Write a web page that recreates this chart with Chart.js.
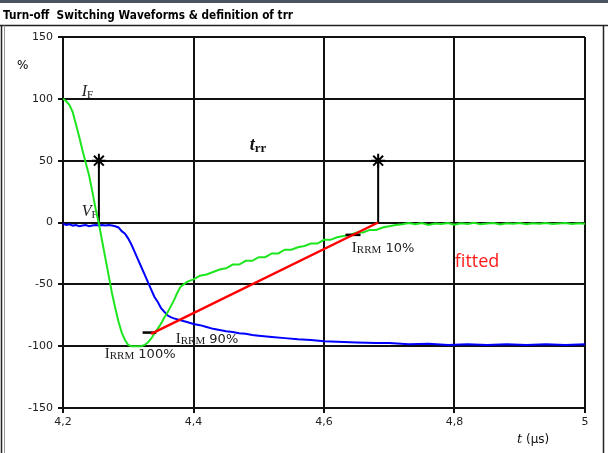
<!DOCTYPE html>
<html>
<head>
<meta charset="utf-8">
<script src="https://cdn.jsdelivr.net/npm/chart.js@4.4.0/dist/chart.umd.min.js"></script>
<style>
  html, body { margin: 0; padding: 0; background: #fff; }
  canvas { display: block; }
</style>
</head>
<body>
<canvas id="trrChart" width="608" height="453"></canvas>
<script>
// tick labels
const xTicks = [4.2, 4.4, 4.6, 4.8, 5.0];
const yTicks = [-150, -100, -50, 0, 50, 100, 150];

// current (green), time in us, value in %
const currentT = [4.200, 4.205, 4.210, 4.215, 4.220, 4.225, 4.230, 4.235, 4.240, 4.245,
  4.250, 4.255, 4.260, 4.265, 4.270, 4.275, 4.280, 4.285, 4.290, 4.295,
  4.300, 4.305, 4.310, 4.315, 4.320, 4.325, 4.330, 4.335, 4.340, 4.345,
  4.350, 4.355, 4.360, 4.365, 4.370, 4.375, 4.380, 4.385, 4.390, 4.395,
  4.400, 4.410, 4.420, 4.430, 4.440, 4.450, 4.460, 4.470, 4.480, 4.490,
  4.500, 4.510, 4.520, 4.530, 4.540, 4.550, 4.560, 4.570, 4.580, 4.590,
  4.600, 4.610, 4.620, 4.630, 4.640, 4.650, 4.660, 4.670, 4.680, 4.690,
  4.700, 4.710, 4.720, 4.730, 4.740, 4.750, 4.760, 4.770, 4.780, 4.790,
  4.800, 4.810, 4.820, 4.830, 4.840, 4.850, 4.860, 4.870, 4.880, 4.890,
  4.900, 4.910, 4.920, 4.930, 4.940, 4.950, 4.960, 4.970, 4.980, 4.990, 5.000];
const currentPct = [100, 98, 95, 89, 79, 69, 58, 48, 38, 25,
  11, -1, -15, -29, -43, -57, -69, -80, -89, -95,
  -99, -100, -100, -100, -100, -99, -97, -94, -90, -86,
  -82, -77, -73, -68, -63, -57, -52, -50, -48, -47,
  -46, -43, -42, -40, -38, -37, -34, -34, -31, -31,
  -28, -28, -25, -25, -22, -22, -20, -19, -17, -17,
  -14, -14, -12, -11, -10, -8, -8, -6, -6, -4,
  -3, -2, -1.5, -0.5, -1.5, -0.5, -2, -0.8, -1.2, -0.4,
  -1.8, -0.6, -1.2, -0.3, -1.5, -0.8, -0.4, -1.6, -0.7, -1.1,
  -0.5, -1.4, -0.6, -1.0, -0.4, -1.3, -0.8, -0.5, -1.2, -0.7, -1.0];

// voltage (blue)
const voltageT = [4.200, 4.205, 4.210, 4.215, 4.220, 4.225, 4.230, 4.235, 4.240, 4.245,
  4.250, 4.255, 4.260, 4.265, 4.270, 4.275, 4.280, 4.285, 4.290, 4.295,
  4.300, 4.305, 4.310, 4.315, 4.320, 4.325, 4.330, 4.335, 4.340, 4.345,
  4.350, 4.355, 4.360, 4.365, 4.370, 4.380, 4.390, 4.400, 4.410, 4.420,
  4.430, 4.440, 4.450, 4.460, 4.470, 4.480, 4.490, 4.500, 4.520, 4.540,
  4.560, 4.580, 4.600, 4.620, 4.650, 4.680, 4.700, 4.730, 4.760, 4.790,
  4.820, 4.850, 4.880, 4.910, 4.940, 4.970, 5.000];
const voltagePct = [-1, -2, -1.5, -2.5, -2, -3, -2.5, -2, -3, -2.5,
  -2, -2.5, -2, -2.5, -2, -2.5, -3, -4, -7, -9,
  -13, -18, -24, -30, -36, -42, -48, -54, -60, -64,
  -69, -72, -75, -76.5, -77.5, -79, -80.5, -82, -83, -84.5,
  -86, -87, -88, -88.5, -89.5, -90, -91, -91.5, -92.5, -93.5,
  -94.5, -95, -96, -96.5, -97, -97.5, -97.5, -98.5, -98, -99,
  -98.5, -99, -98.5, -99, -98.5, -99, -98.5];

// fitted line between IRRM 90% and zero crossing
const fittedT = [4.335, 4.683];
const fittedPct = [-90, 0];

// trr markers
const trrStartT = [4.255, 4.255];
const trrEndT = [4.683, 4.683];
const trrPct = [0, 50];

// small IRRM level dashes
const dash90T = [4.322, 4.343];
const dash90Pct = [-89, -89];
const dash10T = [4.633, 4.656];
const dash10Pct = [-10, -10];

function toPoints(xs, ys) {
    return xs.map((x, i) => ({ x: x, y: ys[i] }));
}

function fmtTime(v) {
    if (Math.abs(v - Math.round(v)) < 1e-9) return String(Math.round(v));
    return v.toFixed(1).replace('.', ',');
}

// text with subscript: parts = [[text, font, dy], ...]
function drawParts(ctx, x, y, parts, color) {
    ctx.fillStyle = color;
    ctx.textBaseline = 'alphabetic';
    ctx.textAlign = 'left';
    let cx = x;
    parts.forEach(p => {
        ctx.font = p[1];
        ctx.fillText(p[0], cx, y + (p[2] || 0));
        cx += ctx.measureText(p[0]).width;
    });
}

const framePlugin = {
    id: 'frame',
    beforeDraw(chart) {
        const ctx = chart.ctx;
        ctx.save();
        ctx.fillStyle = '#fff';
        ctx.fillRect(0, 0, chart.width, chart.height);
        ctx.fillStyle = '#4b5260';
        ctx.fillRect(0, 0, chart.width, 3);
        ctx.strokeStyle = '#222';
        ctx.lineWidth = 1.5;
        ctx.beginPath();
        ctx.moveTo(0, 25.5); ctx.lineTo(chart.width, 25.5);
        ctx.moveTo(1.5, 25.5); ctx.lineTo(1.5, chart.height);
        ctx.moveTo(603.5, 25.5); ctx.lineTo(603.5, chart.height);
        ctx.stroke();
        ctx.strokeStyle = '#999';
        ctx.lineWidth = 1;
        ctx.beginPath();
        ctx.moveTo(4.5, 25.5); ctx.lineTo(4.5, chart.height);
        ctx.stroke();

        ctx.fillStyle = '#000';
        ctx.font = 'bold 13px "DejaVu Sans"';
        ctx.textBaseline = 'middle';
        ctx.fillText('Turn-off  Switching Waveforms & definition of trr', 3, 16, 290);

        ctx.font = '12px "DejaVu Sans"';
        ctx.fillText('%', 17, 66);

        drawParts(ctx, 517, 443, [
            ['t', 'italic 13px "DejaVu Serif"'],
            [' (µs)', '12px "DejaVu Sans"']
        ], '#111');
        ctx.restore();
    },
    beforeDatasetsDraw(chart) {
        const ctx = chart.ctx;
        const xs = chart.scales.x;
        const ys = chart.scales.y;
        const px = t => xs.getPixelForValue(t);
        const py = v => ys.getPixelForValue(v);
        const big = '15px "Liberation Serif"';
        const bigIt = 'italic 16px "Liberation Serif"';
        const small = '11px "Liberation Serif"';
        const pct = '13px "DejaVu Sans"';
        ctx.save();
        drawParts(ctx, px(4.2287), py(102.5), [['I', bigIt], ['F', small, 2]], '#222');
        drawParts(ctx, px(4.2287), py(5.4), [['V', bigIt], ['F', small, 2]], '#222');
        drawParts(ctx, px(4.4863), py(58.8), [['t', 'bold italic 18px "Liberation Serif"'], ['rr', 'bold 13px "Liberation Serif"', 2]], '#111');
        drawParts(ctx, px(4.264), py(-109.5), [['I', big], ['RRM', small, 1], [' 100%', pct]], '#222');
        drawParts(ctx, px(4.3728), py(-97.3), [['I', big], ['RRM', small, 1], [' 90%', pct]], '#222');
        drawParts(ctx, px(4.6427), py(-23.7), [['I', big], ['RRM', small, 1], [' 10%', pct]], '#222');
        drawParts(ctx, px(4.8005), py(-35.8), [['fitted', '18px "Open Sans"']], '#ff1a1a');
        ctx.restore();
    }
};

const ctx = document.getElementById('trrChart').getContext('2d');
const trrChart = new Chart(ctx, {
    type: 'line',
    data: {
        datasets: [
            {
                data: toPoints(fittedT, fittedPct),
                borderColor: '#ff0000',
                borderWidth: 2.5,
                pointRadius: 0
            },
            {
                data: toPoints(dash90T, dash90Pct),
                borderColor: '#000',
                borderWidth: 2.5,
                pointRadius: 0
            },
            {
                data: toPoints(dash10T, dash10Pct),
                borderColor: '#000',
                borderWidth: 2.5,
                pointRadius: 0
            },
            {
                data: toPoints(currentT, currentPct),
                borderColor: '#1ee61e',
                borderWidth: 2,
                pointRadius: 0
            },
            {
                data: toPoints(voltageT, voltagePct),
                borderColor: '#0000ff',
                borderWidth: 2,
                pointRadius: 0
            },
            {
                data: toPoints(trrStartT, trrPct),
                borderColor: '#000',
                borderWidth: 2,
                pointStyle: 'star',
                pointRadius: [0, 7],
                pointBorderWidth: 2,
                pointBorderColor: '#000'
            },
            {
                data: toPoints(trrEndT, trrPct),
                borderColor: '#000',
                borderWidth: 2,
                pointStyle: 'star',
                pointRadius: [0, 7],
                pointBorderWidth: 2,
                pointBorderColor: '#000'
            }
        ]
    },
    options: {
        responsive: false,
        animation: false,
        elements: { line: { tension: 0, fill: false } },
        layout: { padding: { top: 37, right: 23, left: 0, bottom: 0 } },
        plugins: {
            legend: { display: false },
            title: { display: false },
            tooltip: { enabled: false }
        },
        scales: {
            x: {
                type: 'linear',
                min: 4.2,
                max: 5.0,
                afterBuildTicks: scale => { scale.ticks = xTicks.map(v => ({ value: v })); },
                afterFit: scale => { scale.height = 45; },
                grid: { color: '#111', lineWidth: 2, tickLength: 5, drawTicks: true },
                border: { color: '#111', width: 2 },
                ticks: {
                    color: '#222',
                    padding: 3,
                    maxRotation: 0,
                    font: { family: '"DejaVu Sans"', size: 11 },
                    callback: v => fmtTime(v)
                }
            },
            y: {
                type: 'linear',
                min: -150,
                max: 150,
                afterBuildTicks: scale => { scale.ticks = yTicks.map(v => ({ value: v })); },
                afterFit: scale => { scale.width = 63; },
                grid: { color: '#111', lineWidth: 2, tickLength: 5, drawTicks: true },
                border: { color: '#111', width: 2 },
                ticks: {
                    color: '#222',
                    padding: 5,
                    font: { family: '"DejaVu Sans"', size: 11 },
                    callback: v => String(v)
                }
            }
        }
    },
    plugins: [framePlugin]
});
</script>
</body>
</html>
